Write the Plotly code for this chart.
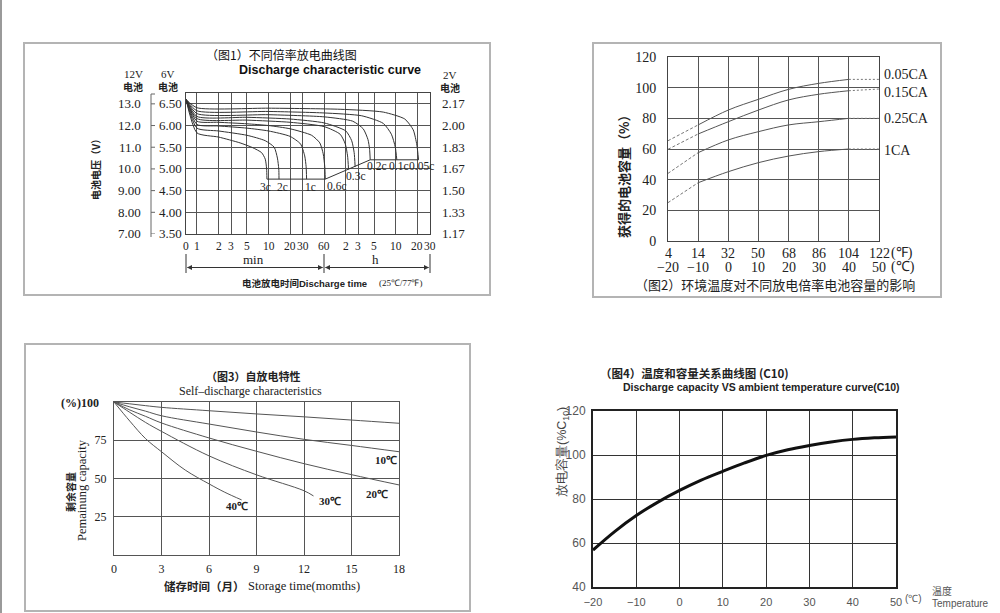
import math
import plotly.graph_objects as go

W, H = 1000, 613
SERIF = "Liberation Serif"
SANS = "Liberation Sans"
CJK = "Noto Sans CJK SC"

# ---------------- Panel 1 data: discharge curves (12V battery volts vs minutes) ----------------
p1_labels = ["3c", "2c", "1c", "0.6c", "0.4c", "0.3c", "0.2c", "0.1c", "0.05c"]
p1_t_3c = [0, 1, 2, 4, 6, 8, 9, 9.4, 9.5]
p1_v_3c = [13.2, 11.66, 11.47, 11.2, 10.98, 10.75, 10.45, 10.0, 9.53]
p1_t_2c = [0, 1, 2, 5, 9, 12, 13.3, 13.9, 14]
p1_v_2c = [13.2, 11.88, 11.75, 11.55, 11.3, 11.0, 10.5, 10.0, 9.53]
p1_t_1c = [0, 1, 2, 5, 10, 20, 28, 32, 33.5, 34]
p1_v_1c = [13.2, 12.05, 11.98, 11.88, 11.75, 11.5, 11.15, 10.6, 10.1, 9.53]
p1_t_06c = [0, 1, 2, 5, 10, 20, 40, 52, 58, 61, 62]
p1_v_06c = [13.2, 12.2, 12.15, 12.08, 12.0, 11.85, 11.55, 11.2, 10.7, 10.1, 9.53]
p1_t_04c = [0, 1, 5, 20, 60, 100, 118, 127, 131]
p1_v_04c = [13.2, 12.32, 12.25, 12.15, 11.95, 11.6, 11.15, 10.6, 9.98]
p1_t_03c = [0, 1, 5, 20, 60, 120, 145, 157, 162]
p1_v_03c = [13.2, 12.42, 12.38, 12.3, 12.12, 11.75, 11.3, 10.75, 10.1]
p1_t_02c = [0, 1, 10, 60, 150, 210, 245, 258, 263]
p1_v_02c = [13.2, 12.55, 12.5, 12.4, 12.2, 11.85, 11.35, 10.9, 10.42]
p1_t_01c = [0, 1, 10, 60, 200, 400, 520, 590, 619]
p1_v_01c = [13.2, 12.68, 12.65, 12.58, 12.45, 12.1, 11.6, 11.0, 10.42]
p1_t_005c = [0, 1, 10, 100, 400, 800, 1050, 1180, 1245]
p1_v_005c = [13.2, 12.82, 12.8, 12.75, 12.62, 12.3, 11.8, 11.1, 10.42]
p1_end_t = [9.5, 62, 263, 1245]
p1_end_v = [9.53, 9.53, 10.42, 10.42]
p1_label_t = [9.0, 15.5, 38, 88, None, 162, 319, 647, 1355]
p1_label_v = [9.17, 9.17, 9.17, 9.22, None, 9.68, 10.14, 10.14, 10.14]

p1_xtick_min = [0, 1, 2, 3, 5, 10, 20, 30, 60, 120, 180, 300, 600, 1200, 1800]
p1_xtick_txt = ["0", "1", "2", "3", "5", "10", "20", "30", "60", "2", "3", "5", "10", "20", "30"]
p1_y12 = [13.0, 12.0, 11.0, 10.0, 9.0, 8.0, 7.0]
p1_y12_txt = ["13.0", "12.0", "11.0", "10.0", "9.00", "8.00", "7.00"]
p1_y6_txt = ["6.50", "6.00", "5.50", "5.00", "4.50", "4.00", "3.50"]
p1_y2_txt = ["2.17", "2.00", "1.83", "1.67", "1.50", "1.33", "1.17"]

# ---------------- Panel 2 data: capacity vs temperature for rates ----------------
p2_temp_c = [-20, -10, 0, 10, 20, 30, 40, 50]
p2_temp_f = ["4", "14", "32", "50", "68", "86", "104", "122"]
p2_temp_c_txt = ["\u221220", "\u221210", "0", "10", "20", "30", "40", "50"]
p2_names = ["0.05CA", "0.15CA", "0.25CA", "1CA"]
p2_005 = [65.4, 75.7, 85.4, 92.4, 98.9, 102.8, 105.4, 105.4]
p2_015 = [59.8, 69.8, 77.8, 85.4, 92.0, 95.7, 98.0, 99.1]
p2_025 = [44.1, 57.6, 65.9, 71.3, 75.7, 77.8, 80.0, 80.0]
p2_1ca = [25.0, 38.0, 45.2, 51.1, 55.4, 58.3, 60.0, 60.0]

# ---------------- Panel 3 data: self-discharge ----------------
p3_months = [0, 1, 2, 3, 6, 9, 12, 15, 18]
p3_top = [100, 98.8, 97.6, 96.5, 94.3, 92.2, 90.3, 88.2, 86.1]
p3_10c = [100, 96.8, 94.0, 91.0, 85.6, 80.4, 75.6, 71.6, 67.5]
p3_20c = [100, 94.8, 90.6, 86.3, 76.5, 67.8, 59.7, 52.5, 45.8]
p3_30c_m = [0, 1, 2, 3, 6, 9, 12, 12.6]
p3_30c = [100, 93.2, 86.6, 80.8, 64.8, 52.4, 42.0, 38.6]
p3_40c_m = [0, 1, 2, 3, 4.5, 6, 7, 8.06]
p3_40c = [100, 87.5, 76.0, 67.5, 55.5, 46.5, 41.0, 36.0]

# ---------------- Panel 4 data: capacity (%C10) vs temperature ----------------
p4_temp = [-20, -15, -10, -5, 0, 5, 10, 15, 20, 25, 30, 35, 40, 45, 50]
p4_cap = [56.8, 65.2, 72.5, 78.6, 83.9, 88.6, 92.6, 96.4, 99.8, 102.4, 104.3, 105.9, 107.1, 107.8, 108.2]


def px(x):
    return x / W


def py(y):
    return 1 - y / H


def tpos(t):
    # scale of the discharge-time axis: logarithmic minutes, "0" drawn left of 1 min
    return -0.153 if t == 0 else math.log10(t)


fig = go.Figure()
ann = []
shapes = []


def text(x, y, s, size=12, family=SERIF, color="#222", xanchor="center", yanchor="middle", angle=0, xref="paper", yref="paper"):
    ann.append(dict(
        x=(x / W if xref == "paper" else x), y=(1 - y / H if yref == "paper" else y),
        xref=xref, yref=yref, text=s, showarrow=False, textangle=angle,
        font=dict(size=size, family=family, color=color), xanchor=xanchor, yanchor=yanchor))


def line(x0, y0, x1, y1, color="#aaa", width=1):
    shapes.append(dict(type="line", xref="paper", yref="paper", x0=px(x0), y0=py(y0), x1=px(x1), y1=py(y1),
                       line=dict(color=color, width=width)))


def rect(x0, y0, x1, y1, color="#b4b4b4", width=2):
    shapes.append(dict(type="rect", xref="paper", yref="paper", x0=px(x0), y0=py(y0), x1=px(x1), y1=py(y1),
                       line=dict(color=color, width=width)))


# page decorations / frames
line(1, 0, 1, 613, "#9a9a9a", 2)
rect(24, 43, 490, 295)
rect(593, 43, 941, 297)
rect(25, 344, 470, 611)

# ---------------- Panel 1 ----------------
p1_series = [(p1_t_3c, p1_v_3c), (p1_t_2c, p1_v_2c), (p1_t_1c, p1_v_1c), (p1_t_06c, p1_v_06c),
             (p1_t_04c, p1_v_04c), (p1_t_03c, p1_v_03c), (p1_t_02c, p1_v_02c), (p1_t_01c, p1_v_01c),
             (p1_t_005c, p1_v_005c)]
for (ts, vs), name in zip(p1_series, p1_labels):
    fig.add_trace(go.Scatter(x=[tpos(t) for t in ts], y=vs, mode="lines", name=name,
                             line=dict(color="#333", width=1, shape="spline", smoothing=0.6),
                             xaxis="x", yaxis="y", showlegend=False, hoverinfo="skip"))
fig.add_trace(go.Scatter(x=[tpos(t) for t in p1_end_t], y=p1_end_v, mode="lines",
                         line=dict(color="#333", width=1), xaxis="x", yaxis="y", showlegend=False))
for name, lt, lv in zip(p1_labels, p1_label_t, p1_label_v):
    if lt is None:
        continue
    text(tpos(lt), lv, name, size=11.5, xref="x", yref="y")

text(281, 55, "（图1）不同倍率放电曲线图", 12, CJK, "#111")
text(330, 70, "<b>Discharge characteristic curve</b>", 12.5, SANS, "#111")
text(95, 167, "<b>电池电压（V）</b>", 10, CJK, "#222", angle=-90)
text(133, 74, "12V", 11, SERIF)
text(133, 86, "<b>电池</b>", 10, CJK)
text(168, 74, "6V", 11, SERIF)
text(168, 86, "<b>电池</b>", 10, CJK)
text(450, 75, "2V", 11, SERIF)
text(450, 88, "<b>电池</b>", 10, CJK)
for v, a, b, c in zip(p1_y12, p1_y12_txt, p1_y6_txt, p1_y2_txt):
    ann.append(dict(x=px(143), y=v, xref="paper", yref="y", text=a, showarrow=False, xanchor="right",
                    font=dict(size=13, family=SERIF, color="#222")))
    ann.append(dict(x=px(157), y=v, xref="paper", yref="y", text=b, showarrow=False, xanchor="left",
                    font=dict(size=13, family=SERIF, color="#222")))
    ann.append(dict(x=px(440), y=v, xref="paper", yref="y", text=c, showarrow=False, xanchor="left",
                    font=dict(size=13, family=SERIF, color="#222")))
    shapes.append(dict(type="line", xref="paper", yref="y", x0=px(151), x1=px(155), y0=v, y1=v,
                       line=dict(color="#666", width=1)))
line(151, 94, 151, 237, "#666", 1)
line(151, 94, 155, 94, "#666", 1)
for t, s in zip(p1_xtick_min, p1_xtick_txt):
    ann.append(dict(x=tpos(t), y=py(246), xref="x", yref="paper", text=s, showarrow=False,
                    font=dict(size=11.5, family=SERIF, color="#222")))
text(253, 259, "min", 13, SERIF)
text(375, 259, "h", 13, SERIF)
for xx in (186, 324, 430):
    line(xx, 254, xx, 273, "#333", 1)
for head, tail in ((187, 324), (323, 186), (325, 430), (429, 324)):
    ann.append(dict(x=px(head), y=py(267.5), xref="paper", yref="paper", ax=tail - head, ay=0,
                    axref="pixel", ayref="pixel", text="", showarrow=True, arrowhead=2, arrowsize=1,
                    arrowwidth=1, arrowcolor="#333"))
text(240, 283, "<b>电池放电时间</b>", 9.5, CJK, "#222", xanchor="left")
text(297, 283, "<b>Discharge time</b>", 9.5, SANS, "#222", xanchor="left")
text(377, 283, "(25℃/77℉)", 9, SERIF, "#222", xanchor="left")

# ---------------- Panel 2 ----------------
for vals, name, ly in zip([p2_005, p2_015, p2_025, p2_1ca], p2_names, [75, 93, 119, 150]):
    fig.add_trace(go.Scatter(x=p2_temp_c[:2], y=vals[:2], mode="lines",
                             line=dict(color="#777", width=1, dash="3px,2px"),
                             xaxis="x2", yaxis="y2", showlegend=False))
    fig.add_trace(go.Scatter(x=p2_temp_c[1:7], y=vals[1:7], mode="lines", line=dict(color="#555", width=1, shape="spline"),
                             xaxis="x2", yaxis="y2", showlegend=False))
    fig.add_trace(go.Scatter(x=p2_temp_c[6:], y=vals[6:], mode="lines", line=dict(color="#777", width=1, dash="2px,2px"),
                             xaxis="x2", yaxis="y2", showlegend=False))
    text(882, ly, name, 14, SERIF, "#222", xanchor="left")
for c, f, ct in zip(p2_temp_c, p2_temp_f, p2_temp_c_txt):
    ann.append(dict(x=c, y=py(253), xref="x2", yref="paper", text=f, showarrow=False,
                    font=dict(size=14, family=SERIF, color="#222")))
    ann.append(dict(x=c, y=py(267), xref="x2", yref="paper", text=ct, showarrow=False,
                    font=dict(size=14, family=SERIF, color="#222")))
text(889, 253, "(℉)", 14, SERIF, "#222", xanchor="left")
text(889, 267, "(℃)", 14, SERIF, "#222", xanchor="left")
text(623, 173, "<b>获得的电池容量（%）</b>", 13, CJK, "#222", angle=-90)
text(775, 284, "（图2）环境温度对不同放电倍率电池容量的影响", 13, CJK, "#222")

# ---------------- Panel 3 ----------------
p3_sets = [(p3_months, p3_top), (p3_months, p3_10c), (p3_months, p3_20c), (p3_30c_m, p3_30c), (p3_40c_m, p3_40c)]
for m, v in p3_sets:
    fig.add_trace(go.Scatter(x=m, y=v, mode="lines", line=dict(color="#555", width=1, shape="spline"),
                             xaxis="x3", yaxis="y3", showlegend=False))
text(253, 376, "<b>（图3）自放电特性</b>", 11, CJK, "#222")
text(250, 391, "Self\u2013discharge characteristics", 12, SERIF, "#222")
text(80, 403, "<b>(%)100</b>", 12, SERIF, "#222")
text(386, 460, "<b>10℃</b>", 11, SERIF, "#222")
text(377, 494, "<b>20℃</b>", 11, SERIF, "#222")
text(330, 501, "<b>30℃</b>", 11, SERIF, "#222")
text(237, 506, "<b>40℃</b>", 11, SERIF, "#222")
text(162, 586, "<b>储存时间（月）</b>", 11.5, CJK, "#222", xanchor="left")
text(246, 586, "Storage time(momths)", 12.5, SERIF, "#222", xanchor="left")
text(70, 492, "<b>剩余容量</b>", 10, CJK, "#222", angle=-90)
text(82, 490, "Pemainung capacity", 12.5, SERIF, "#222", angle=-90)

# ---------------- Panel 4 ----------------
fig.add_trace(go.Scatter(x=p4_temp, y=p4_cap, mode="lines", line=dict(color="#111", width=3, shape="spline"),
                         xaxis="x4", yaxis="y4", showlegend=False))
text(598, 373, "<b>（图4）温度和容量关系曲线图 (C10)</b>", 11.5, CJK, "#222", xanchor="left")
text(761, 387, "<b>Discharge capacity VS ambient temperature curve(C10)</b>", 10.5, SANS, "#222")
text(562, 452, "放电容量(%C<sub>10</sub>)", 12.5, SANS, "#444", angle=-90)
text(913, 598, "(℃)", 10, SANS, "#555")
text(930, 590, "温度", 10, CJK, "#555", xanchor="left")
text(930, 603, "Temperature", 10, SANS, "#555", xanchor="left")

common = dict(showline=True, mirror=True, zeroline=False, ticks="")
fig.update_layout(
    width=W, height=H, margin=dict(l=0, r=0, t=0, b=0, pad=0, autoexpand=False),
    paper_bgcolor="white", plot_bgcolor="white", showlegend=False,
    xaxis=dict(domain=[px(186), px(430)], range=[tpos(0), math.log10(1800)], anchor="y",
               tickvals=[tpos(t) for t in p1_xtick_min], showticklabels=False, showgrid=True,
               gridcolor="#555", gridwidth=1, linecolor="#444", linewidth=1, **common),
    yaxis=dict(domain=[py(234), py(93)], range=[7.0, 13.5], anchor="x", tickvals=p1_y12,
               showticklabels=False, showgrid=True, gridcolor="#555", gridwidth=1, linecolor="#444", linewidth=1, **common),
    xaxis2=dict(domain=[px(668), px(879)], range=[-20, 50], anchor="y2", tickvals=p2_temp_c,
                showticklabels=False, showgrid=True, gridcolor="#555", linecolor="#444", **common),
    yaxis2=dict(domain=[py(241), py(57)], range=[0, 120], anchor="x2", tickvals=[0, 20, 40, 60, 80, 100, 120],
                showgrid=True, gridcolor="#555", linecolor="#444", ticklabelstandoff=8,
                tickfont=dict(size=14, family=SERIF, color="#222"), **common),
    xaxis3=dict(domain=[px(114), px(399)], range=[0, 18], anchor="y3", tickvals=[0, 3, 6, 9, 12, 15, 18],
                showgrid=True, gridcolor="#555", linecolor="#555", ticklabelstandoff=3,
                tickfont=dict(size=12, family=SERIF, color="#222"), **common),
    yaxis3=dict(domain=[py(555), py(402)], range=[0, 100], anchor="x3", tickvals=[25, 50, 75],
                showgrid=True, gridcolor="#555", linecolor="#555", ticklabelstandoff=4,
                tickfont=dict(size=12, family=SERIF, color="#222"), **common),
    xaxis4=dict(domain=[px(593), px(896)], range=[-20, 50], anchor="y4", tickvals=list(range(-20, 51, 10)),
                showgrid=True, gridcolor="#333", linecolor="#222", linewidth=2, ticklabelstandoff=4,
                tickfont=dict(size=11, family=SANS, color="#555"), **common),
    yaxis4=dict(domain=[py(587), py(411)], range=[40, 120], anchor="x4", tickvals=[40, 60, 80, 100, 120],
                showgrid=True, gridcolor="#333", linecolor="#222", linewidth=2, ticklabelstandoff=3,
                tickfont=dict(size=12, family=SANS, color="#555"), **common),
    annotations=ann, shapes=shapes,
)

fig.write_html("out.html", post_script="document.body.style.margin='0';document.body.style.overflow='hidden';")
